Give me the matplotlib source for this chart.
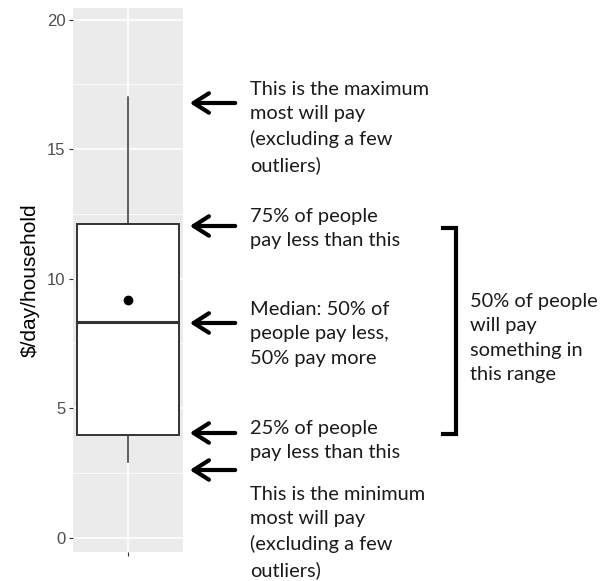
import matplotlib
matplotlib.use("Agg")
import matplotlib.pyplot as plt
from matplotlib.lines import Line2D

# Summary statistics of daily household payment
whisker_low = 2.93
q1 = 3.96
median = 8.33
q3 = 12.1
whisker_high = 17.0
mean = 9.17

y_ticks = [0, 5, 10, 15, 20]
y_label = "$/day/household"

notes = [
    "This is the maximum\nmost will pay\n(excluding a few\noutliers)",
    "75% of people\npay less than this",
    "Median: 50% of\npeople pay less,\n50% pay more",
    "25% of people\npay less than this",
    "This is the minimum\nmost will pay\n(excluding a few\noutliers)",
]
range_note = "50% of people\nwill pay\nsomething in\nthis range"

W, H = 600, 581
fig = plt.figure(figsize=(W / 100, H / 100), dpi=100)

def fx(px):
    return px / W

def fy(py):
    return 1 - py / H

ax = fig.add_axes([fx(73), fy(552), fx(183) - fx(73), fy(8) - fy(552)])
ax.set_facecolor("#EBEBEB")
for s in ax.spines.values():
    s.set_visible(False)

ax.set_xlim(-0.49, 0.49)
ax.set_ylim(-0.55, 20.45)

# grid lines
for v in [2.5, 7.5, 12.5, 17.5]:
    ax.axhline(v, color="white", lw=0.6, zorder=0)
for v in y_ticks:
    ax.axhline(v, color="white", lw=1.2, zorder=0)
ax.axvline(0, color="white", lw=1.2, zorder=0)

stats = [dict(whislo=whisker_low, q1=q1, med=median, q3=q3,
              whishi=whisker_high, fliers=[], mean=mean)]
ax.bxp(stats, positions=[0], widths=[0.9], showcaps=False, showmeans=True,
       patch_artist=True, manage_ticks=False,
       boxprops=dict(facecolor="white", edgecolor="#333333", linewidth=1.4),
       medianprops=dict(color="#333333", linewidth=2.2),
       whiskerprops=dict(color="#333333", linewidth=1.1),
       meanprops=dict(marker="o", markerfacecolor="black",
                      markeredgecolor="black", markersize=6))

ax.set_yticks(y_ticks)
ax.set_yticklabels([str(t) for t in y_ticks])
ax.set_xticks([0])
ax.set_xticklabels([""])
ax.tick_params(axis="both", colors="#333333", length=3, width=0.8,
               labelsize=12, labelcolor="#4D4D4D", pad=2.5)
ax.set_ylabel(y_label, fontsize=15, color="black", labelpad=5,
              family="Liberation Sans")
for lab in ax.get_yticklabels():
    lab.set_family("Liberation Sans")

# annotation arrows pointing back at the box plot
arrow_rows = [103, 226, 323, 433, 470]
for py in arrow_rows:
    fig.add_artist(matplotlib.patches.FancyArrowPatch(
        (fx(238), fy(py)), (fx(187), fy(py)), transform=fig.transFigure,
        arrowstyle="->,head_length=0.55,head_width=0.35",
        mutation_scale=20, lw=3, color="black"))

text_font = dict(family="Lato", fontsize=14.4, color="#1a1a1a",
                 linespacing=1.52, va="top", ha="left")
text_tops = [81, 208, 301, 420, 486]
for note, top in zip(notes, text_tops):
    fig.text(fx(250), fy(top), note, **text_font)

# bracket spanning the interquartile range
bx = 456
fig.add_artist(Line2D([fx(443), fx(bx), fx(bx), fx(443)],
                      [fy(228), fy(228), fy(434), fy(434)],
                      transform=fig.transFigure, color="black", lw=3,
                      solid_joinstyle="miter"))
fig.text(fx(470), fy(293), range_note, **text_font)

fig.savefig("out.png", dpi=100, facecolor="white")
